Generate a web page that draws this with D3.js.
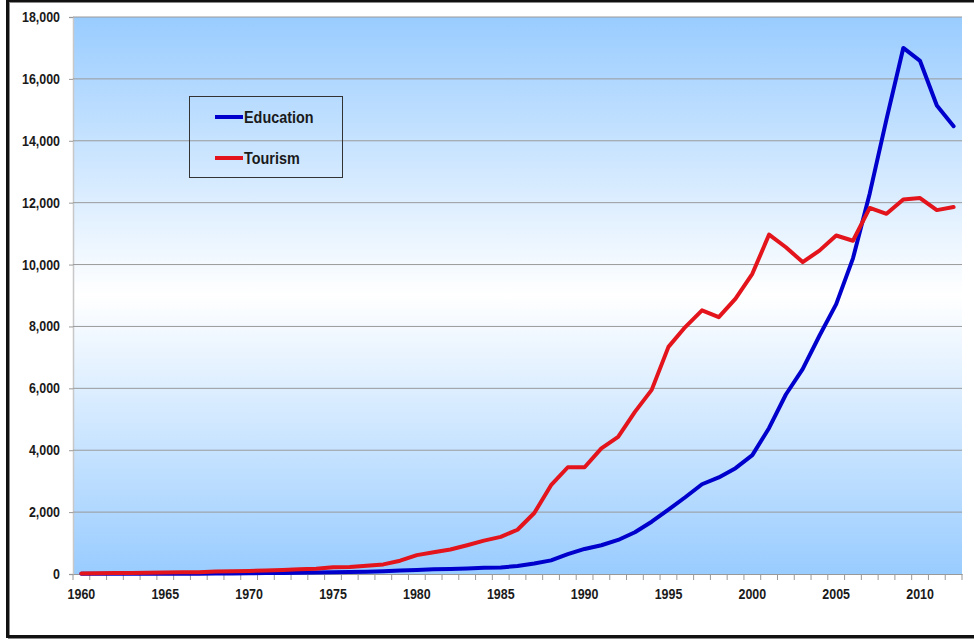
<!DOCTYPE html>
<html>
<head>
<meta charset="utf-8">
<script src="https://cdn.jsdelivr.net/npm/d3@7"></script>
<style>
  html, body { margin: 0; padding: 0; background: #ffffff; }
  svg { display: block; }
  text { font-family: "Liberation Sans", Arial, sans-serif; font-weight: bold; fill: #1a1a1a; }
</style>
</head>
<body>
<svg id="chart" width="974" height="641"></svg>
<script>
const years = d3.range(1960, 2013);
const seriesNames = ["Education", "Tourism"];
const seriesColors = ["#0000CC", "#E3141B"];
const education = [5, 5, 5, 5, 5, 8, 10, 12, 15, 20, 25, 30, 35, 40, 45, 55, 65, 75, 90, 110,
  130, 150, 165, 180, 200, 210, 260, 340, 440, 640, 810, 930, 1100, 1350, 1690,
  2080, 2480, 2900, 3120, 3420, 3840, 4720, 5800, 6620, 7700, 8720, 10200, 12300,
  14700, 17000, 16580, 15140, 14470];
const tourism = [20, 25, 30, 35, 40, 50, 55, 60, 80, 90, 100, 110, 130, 150, 170,
  220, 230, 270, 310, 430, 610, 700, 790, 930, 1080, 1200, 1430, 1970, 2870, 3450,
  3450, 4060, 4430, 5240, 5950, 7340, 7980, 8520, 8300, 8900, 9700, 10970, 10560,
  10080, 10450, 10940, 10770, 11830, 11640, 12100, 12150, 11760, 11860];
const yTicks = [0, 2000, 4000, 6000, 8000, 10000, 12000, 14000, 16000, 18000];
const xLabelYears = [1960, 1965, 1970, 1975, 1980, 1985, 1990, 1995, 2000, 2005, 2010];

const svg = d3.select("#chart");
const plot = { left: 73, right: 962, top: 17, bottom: 574 };
const sx = 0.83;

const x = d3.scaleBand().domain(years).range([plot.left, plot.right]).padding(0);
const y = d3.scaleLinear().domain([0, 18000]).range([plot.bottom, plot.top]);
const cx = d => x(d) + x.bandwidth() / 2;

// outer frame
svg.append("rect").attr("x", 9).attr("y", 2).attr("width", 970).attr("height", 636)
  .attr("fill", "none").attr("stroke", "#8a8a8a").attr("stroke-width", 2);
svg.append("rect").attr("x", 7.5).attr("y", 0.5).attr("width", 972).attr("height", 636)
  .attr("fill", "none").attr("stroke", "#111").attr("stroke-width", 3);

// background gradient
const defs = svg.append("defs");
const grad = defs.append("linearGradient").attr("id", "bg")
  .attr("x1", 0).attr("y1", 0).attr("x2", 0).attr("y2", 1);
grad.append("stop").attr("offset", "0%").attr("stop-color", "#99CCFF");
grad.append("stop").attr("offset", "50%").attr("stop-color", "#FFFFFF");
grad.append("stop").attr("offset", "100%").attr("stop-color", "#99CCFF");
svg.append("rect").attr("x", plot.left).attr("y", plot.top)
  .attr("width", plot.right - plot.left).attr("height", plot.bottom - plot.top)
  .attr("fill", "url(#bg)");

// gridlines + y labels
const yAxis = d3.axisLeft(y).tickValues(yTicks).tickSize(4).tickFormat(() => "");
const yg = svg.append("g").attr("transform", `translate(${plot.left},0)`).call(yAxis);
yg.select(".domain").attr("stroke", "#c8c8c8").attr("stroke-width", 1.5);
yg.selectAll(".tick line").attr("stroke", "#999");
svg.append("g").selectAll("line.grid").data(yTicks.filter(d => d > 0)).join("line")
  .attr("x1", plot.left).attr("x2", plot.right)
  .attr("y1", d => y(d)).attr("y2", d => y(d))
  .attr("stroke", "#9a9a9a").attr("stroke-width", 1);
svg.append("g").selectAll("text").data(yTicks).join("text")
  .attr("transform", d => `translate(60,${y(d) + 5}) scale(${sx},1)`)
  .attr("text-anchor", "end").attr("font-size", 15)
  .text(d => d3.format(",")(d));

// x axis
const xAxis = d3.axisBottom(x).tickSize(0).tickFormat(() => "");
const xg = svg.append("g").attr("transform", `translate(0,${plot.bottom})`).call(xAxis);
xg.select(".domain").attr("stroke", "#999").attr("stroke-width", 1.2);
const boundaries = years.map(d => x(d)).concat([plot.right]);
svg.append("g").selectAll("line").data(boundaries).join("line")
  .attr("x1", d => d).attr("x2", d => d)
  .attr("y1", plot.bottom).attr("y2", plot.bottom + 6)
  .attr("stroke", "#999").attr("stroke-width", 1);
svg.append("g").selectAll("text").data(xLabelYears).join("text")
  .attr("transform", d => `translate(${cx(d)},${plot.bottom + 25}) scale(${sx},1)`)
  .attr("text-anchor", "middle").attr("font-size", 15)
  .text(d => d);

// lines
const line = d3.line().x((d, i) => cx(years[i])).y(d => y(d));
[education, tourism].forEach((vals, k) => {
  svg.append("path").datum(vals).attr("d", line)
    .attr("fill", "none").attr("stroke", seriesColors[k])
    .attr("stroke-width", 4).attr("stroke-linejoin", "round").attr("stroke-linecap", "round");
});

// legend
const lg = svg.append("g");
lg.append("rect").attr("x", 189.5).attr("y", 96.5).attr("width", 153).attr("height", 81)
  .attr("fill", "none").attr("stroke", "#333").attr("stroke-width", 1);
seriesNames.forEach((name, k) => {
  const ly = [117, 158][k];
  lg.append("line").attr("x1", 215).attr("x2", 243).attr("y1", ly).attr("y2", ly)
    .attr("stroke", seriesColors[k]).attr("stroke-width", 4);
  lg.append("text").attr("transform", `translate(244,${ly + 6}) scale(0.9,1)`)
    .attr("font-size", 16).text(name);
});
</script>
</body>
</html>
